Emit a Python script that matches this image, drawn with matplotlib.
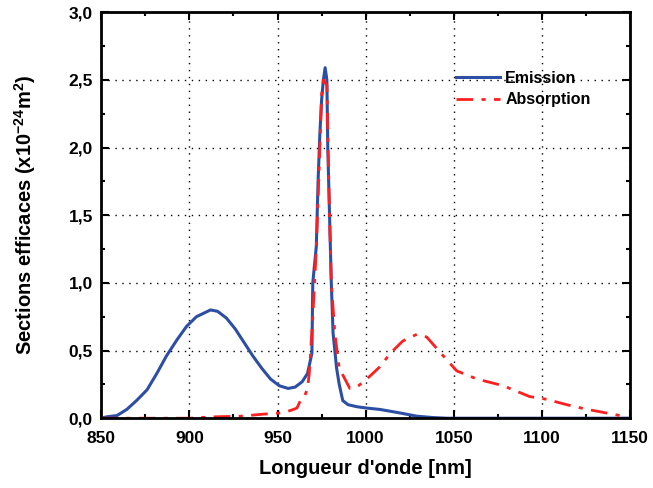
import matplotlib.pyplot as plt
from matplotlib.ticker import MultipleLocator, FuncFormatter

# Emission (nm, x10^-24 m^2)
em_x = [850, 853, 859, 864.5, 870, 876, 881.5, 887, 893, 898.5, 904, 912, 916, 921, 926, 931,
        936, 941, 946, 951, 956, 960, 964, 967, 969.5, 970, 972, 973, 974, 975, 976, 977, 978,
        978.5, 979.5, 980.5, 981.5, 983.5, 985, 987, 990, 995, 1000.6, 1008, 1019, 1029,
        1038, 1046, 1060, 1080, 1100, 1120, 1150]
em_y = [0.0, 0.01, 0.02, 0.065, 0.13, 0.21, 0.33, 0.46, 0.58, 0.68, 0.75, 0.8, 0.79, 0.74, 0.66,
        0.56, 0.46, 0.37, 0.29, 0.24, 0.22, 0.23, 0.27, 0.33, 0.48, 1.0, 1.27, 1.75, 2.1, 2.35,
        2.5, 2.59, 2.5, 2.0, 1.5, 1.0, 0.63, 0.37, 0.25, 0.13, 0.1, 0.085, 0.075, 0.065, 0.04,
        0.015, 0.005, 0.0, 0.0, 0.0, 0.0, 0.0, 0.0]

# Absorption
ab_x = [850, 870, 890, 900, 913, 929, 942, 953, 958, 961, 963, 965, 967, 968, 970, 972, 974,
        975, 976, 977, 978, 978.5, 979.5, 980.5, 982.5, 985, 991, 995, 1000.6, 1004, 1008,
        1014, 1021, 1029, 1034.6, 1042, 1051.6, 1063, 1078, 1093, 1102.5, 1114, 1125, 1140,
        1148]
ab_y = [0.0, 0.0, 0.0, 0.0, 0.01, 0.015, 0.03, 0.04, 0.06, 0.075, 0.13, 0.15, 0.22, 0.33, 0.75,
        1.25, 2.0, 2.39, 2.5, 2.48, 2.46, 2.1, 1.5, 1.0, 0.63, 0.37, 0.22, 0.23, 0.29, 0.33,
        0.38, 0.48, 0.57, 0.62, 0.6, 0.49, 0.35, 0.29, 0.24, 0.16, 0.14, 0.1, 0.067, 0.03, 0.01]

plt.rcParams['font.family'] = ['Liberation Sans', 'DejaVu Sans']
plt.rcParams['mathtext.fontset'] = 'custom'
plt.rcParams['mathtext.rm'] = 'Liberation Sans'
plt.rcParams['mathtext.bf'] = 'Liberation Sans:bold'

fig = plt.figure(figsize=(6.53, 4.88), dpi=100)
ax = fig.add_axes([0.155, 0.143, 0.81, 0.832])

ax.plot(em_x, em_y, color='#2d4ea5', lw=2.2, label='Emission')
ax.plot(ab_x, ab_y, color='#ff1f1f', lw=2.0, dashes=(6, 3, 1.5, 3), label='Absorption')

ax.set_xlim(850, 1150)
ax.set_ylim(0, 3.0)
ax.xaxis.set_major_locator(MultipleLocator(50))
ax.xaxis.set_minor_locator(MultipleLocator(25))
ax.yaxis.set_major_locator(MultipleLocator(0.5))
ax.yaxis.set_minor_locator(MultipleLocator(0.25))
ax.yaxis.set_major_formatter(FuncFormatter(lambda v, p: f"{v:.1f}".replace('.', ',')))

ax.tick_params(which='both', direction='in', top=True, right=True, width=1.5)
ax.tick_params(which='major', length=6, labelsize=12.5)
ax.tick_params(axis='x', which='major', pad=9)
ax.tick_params(axis='y', which='major', pad=6)
ax.tick_params(which='minor', length=3)
for lbl in ax.get_xticklabels() + ax.get_yticklabels():
    lbl.set_fontweight('bold')
for s in ax.spines.values():
    s.set_linewidth(2)

ax.grid(True, which='major', color='black', linestyle=(0, (1, 4)), lw=1)

ax.set_xlabel("Longueur d'onde [nm]", fontsize=14.5, fontweight='bold')
ax.set_ylabel("Sections efficaces (x10$^{\\mathbf{-24}}$m$^{\\mathbf{2}}$)", fontsize=14.5, fontweight='bold')
ax.xaxis.set_label_coords(0.5, -0.1)
ax.yaxis.set_label_coords(-0.12, 0.5)

ax.legend(loc='upper left', bbox_to_anchor=(0.655, 0.875), frameon=False, borderpad=0,
          prop={'weight': 'bold', 'size': 11.5}, handlelength=2.8, labelspacing=0.4, handletextpad=0.3)

fig.savefig('out.png', dpi=100)
